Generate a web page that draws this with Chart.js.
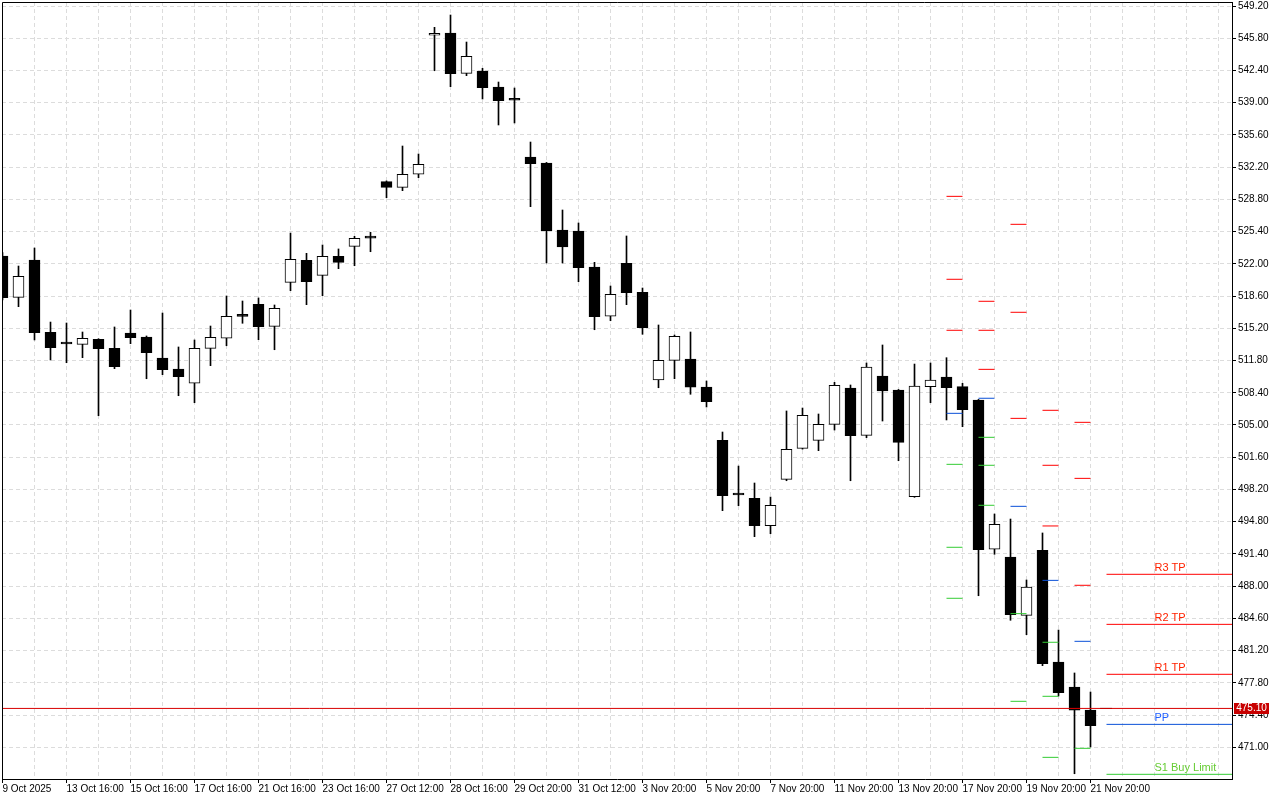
<!DOCTYPE html>
<html lang="en">
<head>
  <meta charset="UTF-8"/>
  <title>Candles with pivot levels</title>
  <script src="https://cdn.jsdelivr.net/npm/chart.js"></script>
  <style>
    html, body { margin: 0; padding: 0; background: #fff; }
  </style>
</head>
<body>
  <canvas id="chart" width="1280" height="800"></canvas>

  <script>
    // candles, index 0 = 9 Oct 2025 (a label every 4 candles)
    const opens  = [522.83,518.47,522.41,514.78,513.76,513.51,514.04,513.09,514.70,514.28,
                    512.07,510.91,509.40,513.09,514.15,516.52,517.73,515.41,520.05,522.37,
                    520.79,522.80,523.85,524.78,530.67,530.07,531.45,546.11,546.35,542.10,
                    542.34,540.65,539.30,533.27,532.64,525.57,525.46,521.67,516.47,522.06,
                    519.00,509.75,511.82,511.96,509.01,503.38,497.68,497.27,494.38,499.27,
                    502.54,503.38,505.07,508.90,503.91,510.17,508.69,497.44,509.04,510.06,
                    509.04,507.64,491.89,491.07,484.92,491.78,480.00,477.36,474.93];
    const highs  = [523.20,521.77,523.67,515.86,515.76,514.81,514.10,515.34,517.13,514.39,
                    516.81,513.23,513.97,515.44,518.61,518.08,518.40,517.66,525.25,523.11,
                    523.99,523.57,524.90,525.33,530.75,534.43,533.59,546.95,548.25,545.40,
                    542.63,541.18,540.55,534.85,532.70,527.68,526.31,522.16,519.66,524.94,
                    519.45,515.55,514.49,514.81,509.64,504.26,500.67,498.88,497.40,506.48,
                    506.79,506.16,509.50,509.22,511.54,513.44,508.75,511.43,511.54,512.10,
                    509.40,507.70,495.61,495.08,488.65,493.61,483.37,478.84,476.83];
    const lows   = [518.20,517.48,513.97,511.86,511.57,512.10,505.98,510.94,513.58,509.88,
                    510.31,508.09,507.35,511.26,513.36,515.73,514.00,512.94,519.17,517.69,
                    518.64,521.49,521.80,523.28,528.98,529.72,531.09,542.37,540.69,541.85,
                    539.39,536.65,536.86,528.03,522.09,522.09,520.12,515.05,516.00,517.69,
                    514.57,508.93,509.88,508.24,506.90,495.96,496.49,493.22,493.53,499.12,
                    502.45,502.29,504.47,499.12,503.66,505.42,501.23,497.37,507.35,505.53,
                    504.82,486.99,491.36,484.40,482.88,479.61,476.41,468.21,471.03];
    const closes = [518.43,520.69,514.74,513.15,513.54,514.15,513.05,511.15,514.21,512.63,
                    510.83,510.09,513.09,514.25,516.47,516.46,515.37,517.31,522.48,520.12,
                    522.80,522.16,524.69,524.72,530.07,531.45,532.50,546.32,542.06,543.89,
                    540.58,539.21,539.26,532.56,525.50,523.78,521.59,516.42,518.79,518.96,
                    515.26,511.82,514.36,508.98,507.46,497.54,497.62,494.38,496.53,502.44,
                    506.02,505.07,509.19,503.87,511.12,508.59,503.17,509.11,509.75,508.93,
                    506.61,491.84,494.52,484.99,487.91,479.82,476.76,474.93,473.28];

    const xLabels = ['9 Oct 2025','13 Oct 16:00','15 Oct 16:00','17 Oct 16:00','21 Oct 16:00',
                     '23 Oct 16:00','27 Oct 12:00','28 Oct 16:00','29 Oct 20:00','31 Oct 12:00',
                     '3 Nov 20:00','5 Nov 20:00','7 Nov 20:00','11 Nov 20:00','13 Nov 20:00',
                     '17 Nov 20:00','19 Nov 20:00','21 Nov 20:00'];
    const yTicks = [549.20,545.80,542.40,539.00,535.60,532.20,528.80,525.40,522.00,518.60,
                    515.20,511.80,508.40,505.00,501.60,498.20,494.80,491.40,488.00,484.60,
                    481.20,477.80,474.40,471.00];

    const lastPrice = 475.10;
    const lastMark = [68.6, 69.35];   // short black dash right of the last candle

    // daily pivot marks: candle where each day's marks start
    const pivotStarts = [59, 61, 63, 65, 67];
    const pivotRes = [[529.12,520.37,514.99],[518.05,514.99,510.87],[526.17,516.89,505.70],
                      [506.55,500.75,494.35],[505.28,499.37,488.09]];
    const pivotPP  = [506.23, 507.82, 496.42, 488.61, 482.18];
    const pivotSup = [[500.85,492.10,486.72],[503.70,500.75,496.53],[485.10,475.85],
                      [482.08,476.38,469.94],[470.89]];

    // current levels (drawn to the right edge)
    const levelNames  = ['R3 TP', 'R2 TP', 'R1 TP', 'PP', 'S1 Buy Limit'];
    const levelValues = [489.25, 483.97, 478.70, 473.42, 468.15];
    const levelStart = 69;
    const levelLabelAt = 72;

    // 16px per candle, 1230px plot width
    const xMin = -0.03125, xMax = 76.84375;
    const yMin = 467.656, yMax = 549.622;

    const FONT = "'Liberation Sans', Arial, sans-serif";
    const GRID = '#dcdcdc';

    function segments(starts, levels) {
      const pts = [];
      starts.forEach((s, d) => {
        [].concat(levels[d]).forEach(v => {
          pts.push({x: s, y: v}, {x: s + 1, y: v}, {x: s + 1, y: null});
        });
      });
      return pts;
    }

    function levelColor(name) {
      if (name[0] === 'R') return '#ff0000';
      if (name[0] === 'S') return '#33cc33';
      return '#0a50d8';
    }

    const isBear = i => closes[i] < opens[i];

    const datasets = [];

    datasets.push({
      type: 'line', order: 0,
      data: [{x: xMin, y: lastPrice}, {x: xMax, y: lastPrice}],
      borderColor: '#d80000', borderWidth: 1, pointRadius: 0
    });
    datasets.push({
      type: 'line', order: 0,
      data: lastMark.map(x => ({x, y: lastPrice})),
      borderColor: '#000', borderWidth: 1, pointRadius: 0
    });

    levelNames.forEach((n, i) => {
      datasets.push({
        type: 'line', order: 0,
        data: [{x: levelStart, y: levelValues[i]}, {x: xMax, y: levelValues[i]}],
        borderColor: levelColor(n), borderWidth: 1, pointRadius: 0
      });
    });

    datasets.push({ type: 'line', order: 0, data: segments(pivotStarts, pivotRes),
      borderColor: '#ff0000', borderWidth: 1, pointRadius: 0, spanGaps: false });
    datasets.push({ type: 'line', order: 0, data: segments(pivotStarts, pivotPP),
      borderColor: '#0a50d8', borderWidth: 1, pointRadius: 0, spanGaps: false });
    datasets.push({ type: 'line', order: 0, data: segments(pivotStarts, pivotSup),
      borderColor: '#33cc33', borderWidth: 1, pointRadius: 0, spanGaps: false });

    // bodies
    datasets.push({
      type: 'bar', order: 1,
      data: opens.map((o, i) => ({x: i, y: [o, closes[i]]})),
      barThickness: 11, minBarLength: 2, grouped: false,
      borderSkipped: false, borderWidth: 1, borderColor: '#000',
      backgroundColor: ctx => isBear(ctx.dataIndex) ? '#000' : '#fff'
    });
    // wicks
    datasets.push({
      type: 'bar', order: 2,
      data: highs.map((h, i) => ({x: i, y: [lows[i], h]})),
      barThickness: 1, grouped: false, borderWidth: 0, backgroundColor: '#000'
    });

    const frame = {
      id: 'frame',
      afterDraw(chart) {
        const {ctx, chartArea: a, scales} = chart;
        ctx.save();
        // left/top border
        ctx.strokeStyle = '#000';
        ctx.lineWidth = 1;
        ctx.beginPath();
        ctx.moveTo(a.left + 0.5, a.bottom);
        ctx.lineTo(a.left + 0.5, a.top + 0.5);
        ctx.lineTo(a.right, a.top + 0.5);
        ctx.stroke();

        // level labels
        ctx.font = '11px ' + FONT;
        ctx.textAlign = 'left';
        ctx.textBaseline = 'bottom';
        const lx = scales.x.getPixelForValue(levelLabelAt);
        levelNames.forEach((n, i) => {
          ctx.fillStyle = n[0] === 'R' ? '#ff2200' : (n[0] === 'S' ? '#66cc33' : '#2060ff');
          ctx.fillText(n, lx, scales.y.getPixelForValue(levelValues[i]) - 1);
        });

        // last price tag
        const py = Math.round(scales.y.getPixelForValue(lastPrice));
        ctx.fillStyle = '#c80000';
        ctx.fillRect(a.right + 2, py - 5, 35, 11);
        ctx.fillStyle = '#fff';
        ctx.font = '10px ' + FONT;
        ctx.textAlign = 'center';
        ctx.textBaseline = 'middle';
        ctx.fillText(lastPrice.toFixed(2), a.right + 19.5, py + 0.5);
        ctx.restore();
      }
    };

    new Chart(document.getElementById('chart'), {
      data: { datasets },
      options: {
        responsive: false,
        animation: false,
        layout: { padding: {left: 2, top: 2, right: 0, bottom: 0}, autoPadding: false },
        plugins: { legend: {display: false}, tooltip: {enabled: false} },
        scales: {
          x: {
            type: 'linear', position: 'bottom', min: xMin, max: xMax, offset: false,
            afterBuildTicks: s => {
              const t = [];
              for (let v = 0; v <= 76; v += 2) t.push({value: v});
              s.ticks = t;
            },
            afterFit: s => { s.height = 21; s.paddingLeft = 0; s.paddingRight = 0; },
            ticks: {
              autoSkip: false, maxRotation: 0, minRotation: 0, align: 'start',
              padding: 0, color: '#000', font: {family: FONT, size: 10},
              callback: v => (v % 4 === 0 && xLabels[v / 4]) ? xLabels[v / 4] : ''
            },
            grid: {
              offset: false, color: GRID, lineWidth: 1, drawTicks: true, tickLength: 4,
              tickColor: c => (c.tick && c.tick.value % 4 === 0 && xLabels[c.tick.value / 4]) ? '#000' : 'rgba(0,0,0,0)'
            },
            border: { display: true, color: '#000', width: 1, dash: [4, 3] }
          },
          y: {
            type: 'linear', position: 'right', min: yMin, max: yMax,
            afterBuildTicks: s => { s.ticks = yTicks.map(v => ({value: v})); },
            afterFit: s => { s.width = 48; s.paddingTop = 0; s.paddingBottom = 0; },
            ticks: {
              autoSkip: false, padding: 2, color: '#000',
              font: {family: FONT, size: 10},
              callback: v => Number(v).toFixed(2)
            },
            grid: { color: GRID, lineWidth: 1, drawTicks: true, tickLength: 4, tickColor: '#000' },
            border: { display: true, color: '#000', width: 1, dash: [4, 3] }
          }
        }
      },
      plugins: [frame]
    });
  </script>
</body>
</html>
